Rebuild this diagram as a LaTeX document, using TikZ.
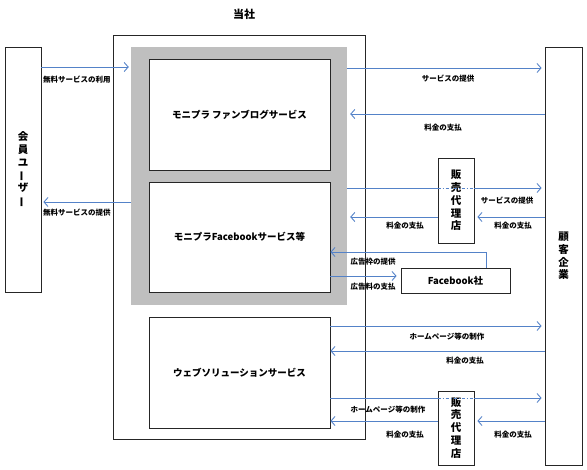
\documentclass[tikz,border=0pt]{standalone}
\usepackage{fontspec}
\setmainfont{Noto Sans CJK JP}
\usepackage{graphicx}
\usetikzlibrary{arrows.meta}
\definecolor{arrblue}{RGB}{84,130,200}
\definecolor{shade}{RGB}{191,191,191}
\newcommand{\vbar}{\rotatebox[origin=c]{90}{ー}}
\begin{document}
\begin{tikzpicture}[x=1pt,y=-1pt,
 box/.style={draw=black!85, line width=0.8pt, fill=white, inner sep=0pt},
 arr/.style={draw=arrblue, line width=0.9pt, -{Straight Barb[length=4pt,width=9pt,line width=0.9pt]}},
 plain/.style={draw=arrblue, line width=0.9pt},
 thru/.style={draw=arrblue, line width=0.9pt, dash pattern=on 3pt off 2pt on 1pt off 2pt},
 lbl/.style={font=\fontsize{7.5}{9}\selectfont\bfseries, inner sep=0pt},
 big/.style={font=\fontsize{9.5}{11}\selectfont\bfseries},
 vert/.style={align=center, font=\fontsize{10.5}{12.8}\selectfont\bfseries, inner sep=0pt}]
\useasboundingbox (0,0) rectangle (587,470);

% company frame
\node[box, minimum width=252pt, minimum height=404pt] (company) at (239,237) {};
\node[font=\fontsize{11}{13}\selectfont\bfseries] (companylbl) at (244,14) {当社};
\node[fill=shade, inner sep=0pt, minimum width=216pt, minimum height=258pt] (gray) at (239,176) {};

% service boxes
\node[box, minimum width=181pt, minimum height=111pt, big] (box1) at (239.5,114.5) {モニプラ ファンブログサービス};
\node[box, minimum width=181pt, minimum height=110pt, big] (box2) at (239.5,237) {モニプラFacebookサービス等};
\node[box, minimum width=181pt, minimum height=111pt, big] (box3) at (239.5,372.5) {ウェブソリューションサービス};

% side boxes
\node[box, minimum width=36pt, minimum height=245pt] (member) at (23,169.5) {};
\node[vert] (membertxt) at (member.center) {会\\員\\ユ\\\vbar\\ザ\\\vbar};
\node[box, minimum width=37pt, minimum height=418pt] (client) at (563.5,256) {};
\node[vert] (clienttxt) at (client.center) {顧\\客\\企\\業};

\node[box, minimum width=36pt, minimum height=85pt] (dealer1) at (456,200.5) {};
\node[vert] (dealer1txt) at (dealer1.center) {販\\売\\代\\理\\店};
\node[box, minimum width=36pt, minimum height=74pt] (dealer2) at (456,428) {};
\node[vert] (dealer2txt) at (dealer2.center) {販\\売\\代\\理\\店};

\node[box, minimum width=109pt, minimum height=25pt, font=\fontsize{9.5}{11}\selectfont\bfseries] (fb) at (455.5,280.5) {Facebook社};

% row coordinates
\coordinate (r1) at (0,67);
\coordinate (r2) at (0,202);
\coordinate (r3) at (0,68);
\coordinate (r4) at (0,114);
\coordinate (r5) at (0,188);
\coordinate (r6) at (0,217);
\coordinate (r8) at (486,252);
\coordinate (r9) at (0,276);
\coordinate (r10) at (0,326);
\coordinate (r11) at (0,351);
\coordinate (r12) at (0,398);
\coordinate (r13) at (0,421);

% member arrows
\draw[arr, shorten >=2pt] (member.east |- r1) -- (gray.west |- r1);
\draw[arr, shorten >=2pt] (gray.west |- r2) -- (member.east |- r2);

% fan blog
\draw[arr, shorten >=3pt] (gray.east |- r3) -- (client.west |- r3);
\draw[arr, shorten >=3pt] (client.west |- r4) -- (gray.east |- r4);

% facebook via dealer
\draw[plain] (gray.east |- r5) -- (dealer1.west |- r5);
\draw[thru] (dealer1.west |- r5) -- (dealer1.east |- r5);
\draw[arr, shorten >=3pt] (dealer1.east |- r5) -- (client.west |- r5);
\draw[arr, shorten >=3pt] (dealer1.west |- r6) -- (gray.east |- r6);
\draw[arr, shorten >=3pt] (client.west |- r6) -- (dealer1.east |- r6);

% facebook company
\draw[arr] (fb.north -| r8) -- (r8) -- (box2.east |- r8);
\draw[arr, shorten >=4pt] (box2.east |- r9) -- (fb.west |- r9);

% web solution
\draw[arr, shorten >=3pt] (box3.east |- r10) -- (client.west |- r10);
\draw[arr] (client.west |- r11) -- (box3.east |- r11);
\draw[plain] (box3.east |- r12) -- (dealer2.west |- r12);
\draw[thru] (dealer2.west |- r12) -- (dealer2.east |- r12);
\draw[arr, shorten >=3pt] (dealer2.east |- r12) -- (client.west |- r12);
\draw[arr] (dealer2.west |- r13) -- (box3.east |- r13);
\draw[arr, shorten >=3pt] (client.west |- r13) -- (dealer2.east |- r13);

% labels
\node[lbl, anchor=west] (l1) at (43,80) {無料サービスの利用};
\node[lbl, anchor=west] (l2) at (43,213) {無料サービスの提供};
\node[lbl] (l3) at (448,79) {サービスの提供};
\node[lbl] (l4) at (443,128) {料金の支払};
\node[lbl] (l5) at (507,201) {サービスの提供};
\node[lbl] (l6) at (405,226) {料金の支払};
\node[lbl] (l7) at (513,226) {料金の支払};
\node[lbl] (l8) at (373,262) {広告枠の提供};
\node[lbl] (l9) at (373,287) {広告料の支払};
\node[lbl] (l10) at (447,337) {ホームページ等の制作};
\node[lbl] (l11) at (465,361) {料金の支払};
\node[lbl] (l12) at (388,410) {ホームページ等の制作};
\node[lbl] (l13) at (405,435) {料金の支払};
\node[lbl] (l14) at (513,435) {料金の支払};
\end{tikzpicture}
\end{document}
